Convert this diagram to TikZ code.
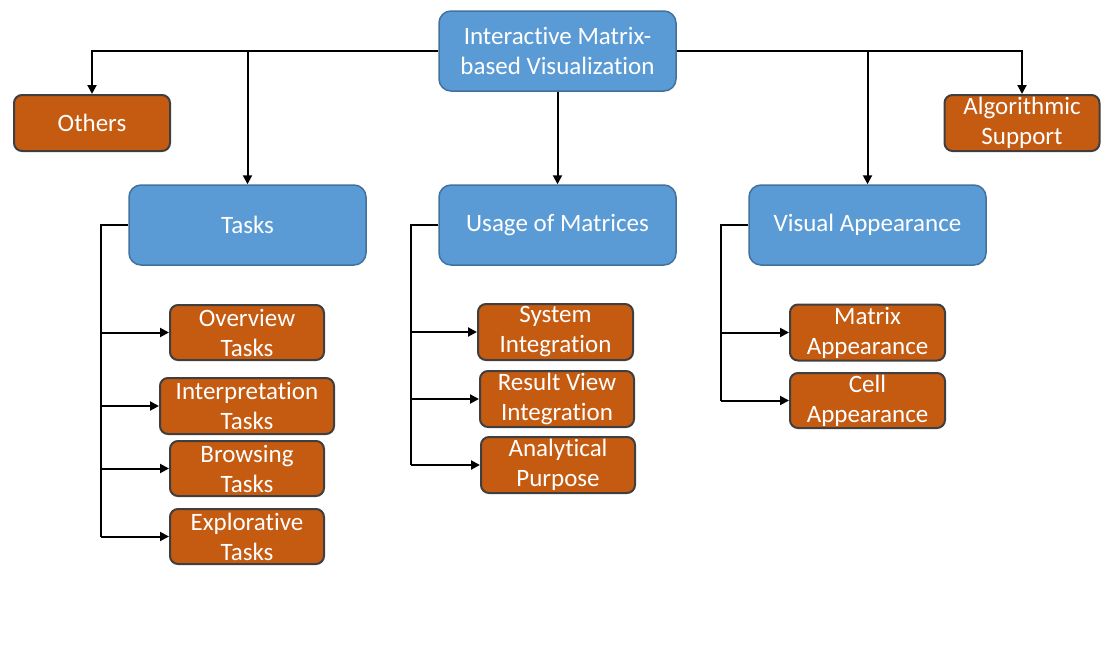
\documentclass[tikz,border=0pt]{standalone}
\usepackage{fontspec}
\setmainfont{Carlito}[Ligatures={NoCommon}]
\usetikzlibrary{arrows.meta}
\definecolor{boxblue}{HTML}{5B9BD5}
\definecolor{blueedge}{HTML}{41719C}
\definecolor{boxorange}{HTML}{C55A11}
\definecolor{orangeedge}{HTML}{3F3F3F}
\tikzset{
  bluebox/.style={draw=blueedge, line width=1.5pt, fill=boxblue, rounded corners=12pt, text=white, align=center, inner sep=0pt, font=\fontsize{25}{30}\selectfont},
  orangebox/.style={draw=orangeedge, line width=2pt, fill=boxorange, rounded corners=8pt, text=white, align=center, inner sep=0pt, font=\fontsize{25}{30}\selectfont},
  conn/.style={draw=black, line width=2pt},
  arr/.style={conn, -{Triangle[length=9pt,width=9pt]}},
}
\begin{document}
\begin{tikzpicture}[x=1pt,y=-1pt]
\useasboundingbox (0,0) rectangle (1113,645);
% main boxes
\node[bluebox, minimum width=237pt, minimum height=80pt] (root) at (557.5,51) {Interactive Matrix-\\based Visualization};
\node[orangebox, minimum width=156pt, minimum height=56pt] (others) at (92,123) {Others};
\node[orangebox, minimum width=155pt, minimum height=56pt] (algo) at (1022,123) {Algorithmic\\Support};
\node[bluebox, minimum width=237pt, minimum height=80pt] (tasks) at (247.5,225) {Tasks};
\node[bluebox, minimum width=237pt, minimum height=80pt] (usage) at (557.5,225) {Usage of Matrices};
\node[bluebox, minimum width=237pt, minimum height=80pt] (visual) at (867.5,225) {Visual Appearance};
% task children
\node[orangebox, minimum width=154pt, minimum height=55pt] (overview) at (247,332.5) {Overview\\Tasks};
\node[orangebox, minimum width=174pt, minimum height=56pt] (interp) at (247,406) {Interpretation\\Tasks};
\node[orangebox, minimum width=154pt, minimum height=55pt] (browsing) at (247,468.5) {Browsing\\Tasks};
\node[orangebox, minimum width=154pt, minimum height=55pt] (explor) at (247,536.5) {Explorative\\Tasks};
% usage children
\node[orangebox, minimum width=155pt, minimum height=56pt] (system) at (555.5,332) {System\\Integration};
\node[orangebox, minimum width=154pt, minimum height=56pt] (result) at (557,399) {Result View\\Integration};
\node[orangebox, minimum width=154pt, minimum height=56pt] (analyt) at (558,465) {Analytical\\Purpose};
% visual children
\node[orangebox, minimum width=155pt, minimum height=56pt] (matrix) at (867.5,332.5) {Matrix\\Appearance};
\node[orangebox, minimum width=155pt, minimum height=55pt] (cell) at (867.5,400.5) {Cell\\Appearance};
% top connectors
\draw[arr] (root.west) -| (others.north);
\draw[arr] (tasks.north |- root.west) -- (tasks.north);
\draw[arr] (root.south) -- (usage.north);
\draw[arr] (root.east) -| (algo.north);
\draw[arr] (visual.north |- root.east) -- (visual.north);
% tasks bus
\coordinate (tbus) at (101,536.5);
\draw[conn] (tasks.west) -| (tbus);
\draw[arr] (tbus |- overview.west) -- (overview.west);
\draw[arr] (tbus |- interp.west) -- (interp.west);
\draw[arr] (tbus |- browsing.west) -- (browsing.west);
\draw[arr] (tbus) -- (explor.west);
% usage bus
\coordinate (ubus) at (411,465);
\draw[conn] (usage.west) -| (ubus);
\draw[arr] (ubus |- system.west) -- (system.west);
\draw[arr] (ubus |- result.west) -- (result.west);
\draw[arr] (ubus) -- (analyt.west);
% visual bus
\coordinate (vbus) at (721,400.5);
\draw[conn] (visual.west) -| (vbus);
\draw[arr] (vbus |- matrix.west) -- (matrix.west);
\draw[arr] (vbus) -- (cell.west);
\end{tikzpicture}
\end{document}
